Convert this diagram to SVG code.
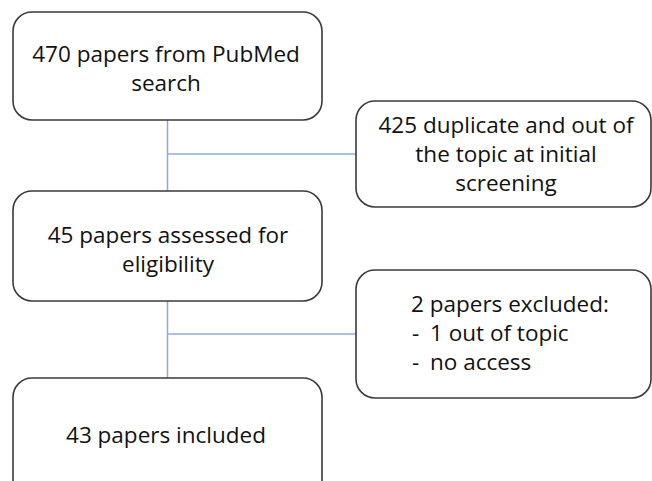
<svg xmlns="http://www.w3.org/2000/svg" width="652" height="481" viewBox="0 0 652 481">
<style>
.box{fill:#fff;stroke:#3a3a3a;stroke-width:1.6}
.t{font-family:"Open Sans","Liberation Sans",sans-serif;font-size:22.5px;fill:#111}
.c{text-anchor:middle}
.conn{stroke:#8eaadb;stroke-width:1.5;fill:none}
</style>
<rect width="652" height="481" fill="#fff"/>
<g id="connectors">
<path class="conn" d="M167.5 120V191M167.5 154H356"/>
<path class="conn" d="M167.5 301V378M167.5 334H356"/>
</g>
<g id="n1">
<rect class="box" x="13" y="12" width="309" height="108" rx="19"/>
<text class="t c" x="166" y="62">470 papers from PubMed</text>
<text class="t c" x="166" y="91">search</text>
</g>
<g id="n2">
<rect class="box" x="356" y="101" width="295" height="106" rx="19"/>
<text class="t c" x="506" y="133">425 duplicate and out of</text>
<text class="t c" x="506" y="162">the topic at initial</text>
<text class="t c" x="506" y="191">screening</text>
</g>
<g id="n3">
<rect class="box" x="13" y="191" width="309" height="110" rx="19"/>
<text class="t c" x="168" y="243">45 papers assessed for</text>
<text class="t c" x="168" y="272">eligibility</text>
</g>
<g id="n4">
<rect class="box" x="356" y="270" width="295" height="128" rx="19"/>
<text class="t" x="411" y="312">2 papers excluded:</text>
<text class="t" x="412" y="341">-</text>
<text class="t" x="430" y="341">1 out of topic</text>
<text class="t" x="412" y="370">-</text>
<text class="t" x="430" y="370">no access</text>
</g>
<g id="n5">
<rect class="box" x="13" y="378" width="309" height="130" rx="19"/>
<text class="t c" x="166" y="443">43 papers included</text>
</g>
</svg>
